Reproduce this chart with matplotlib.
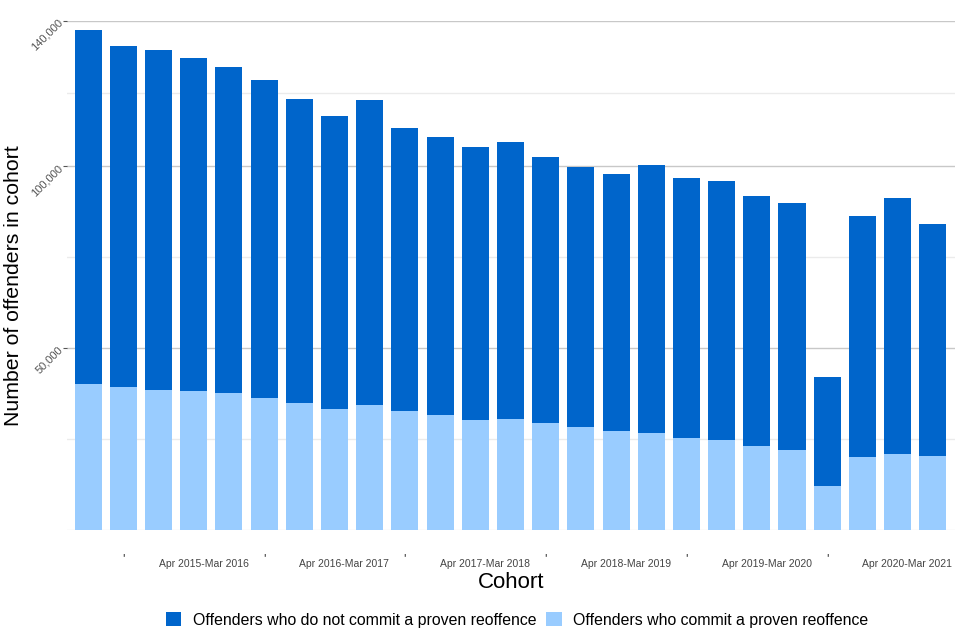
import matplotlib
matplotlib.use("Agg")
import matplotlib.pyplot as plt
from matplotlib.patches import Patch
import numpy as np

plt.rcParams['font.family'] = ['Liberation Sans', 'DejaVu Sans']

# Quarterly cohorts (25 bars)
totals = [137550, 133150, 132050, 129850, 127370, 123800, 118570, 113890, 118290,
          110590, 108110, 105360, 106740, 102610, 99860, 97940, 100410, 96840,
          96010, 91880, 89960, 42090, 86380, 91330, 84180]
reoffenders = [40160, 39340, 38510, 38240, 37690, 36310, 34940, 33290, 34390,
               32740, 31640, 30260, 30540, 29440, 28340, 27230, 26680, 25310,
               24760, 23110, 22010, 12100, 20080, 20910, 20360]
non_reoffenders = [t - r for t, r in zip(totals, reoffenders)]

year_labels = ["Apr 2015-Mar 2016", "Apr 2016-Mar 2017", "Apr 2017-Mar 2018",
               "Apr 2018-Mar 2019", "Apr 2019-Mar 2020", "Apr 2020-Mar 2021"]
year_label_pos = [3.28, 7.28, 11.28, 15.28, 19.28, 23.28]
year_mark_pos = [1, 5, 9, 13, 17, 21]

series_names = ["Offenders who do not commit a proven reoffence",
                "Offenders who commit a proven reoffence"]

dark = "#0065CB"
light = "#99CCFF"

fig = plt.figure(figsize=(9.6, 6.4), dpi=100)
ax = fig.add_axes([67/960, 110/640, (955-67)/960, (530-20.7)/640])

x = np.arange(len(totals))
ax.bar(x, reoffenders, width=0.77, color=light, zorder=3)
ax.bar(x, non_reoffenders, bottom=reoffenders, width=0.77, color=dark, zorder=3)

ax.set_xlim(-0.6, 24.63)
ax.set_ylim(0, 140000)

for s in ax.spines.values():
    s.set_visible(False)

ax.set_yticks([50000, 100000, 140000])
ax.set_yticklabels(["50,000", "100,000", "140,000"])
ax.set_yticks([0, 25000, 75000, 120000], minor=True)
ax.grid(axis='y', which='major', color='#c8c8c8', linewidth=1.0, zorder=0)
ax.grid(axis='y', which='minor', color='#ebebeb', linewidth=1.0, zorder=0)
ax.tick_params(axis='y', which='major', length=3, width=0.8, color='#555555',
               labelsize=8, labelcolor='#555555', pad=1)
ax.tick_params(axis='y', which='minor', length=0)
for lab in ax.get_yticklabels():
    lab.set_rotation(45)
    lab.set_ha('right')
    lab.set_va('center')
    lab.set_rotation_mode('anchor')

ax.set_xticks(year_label_pos)
ax.set_xticklabels(year_labels)
ax.set_xticks(year_mark_pos, minor=True)
ax.set_xticklabels(["'"] * len(year_mark_pos), minor=True)
ax.tick_params(axis='x', which='major', length=0, labelsize=7.5,
               labelcolor='#444444', pad=21)
ax.tick_params(axis='x', which='minor', length=0, labelsize=9,
               labelcolor='#333333', pad=17)

ax.set_xlabel("Cohort", fontsize=16, labelpad=2)
ax.set_ylabel("Number of offenders in cohort", fontsize=15.3)
ax.yaxis.set_label_coords(-0.05, 0.479)

handles = [Patch(facecolor=dark, edgecolor='none'), Patch(facecolor=light, edgecolor='none')]
fig.legend(handles, series_names, loc='center', bbox_to_anchor=(517/960, 1 - 620/640),
           ncol=2, frameon=False, fontsize=11.4, handlelength=1.0, handleheight=1.0,
           handletextpad=0.7, columnspacing=0.65)

fig.savefig("out.png", dpi=100)
